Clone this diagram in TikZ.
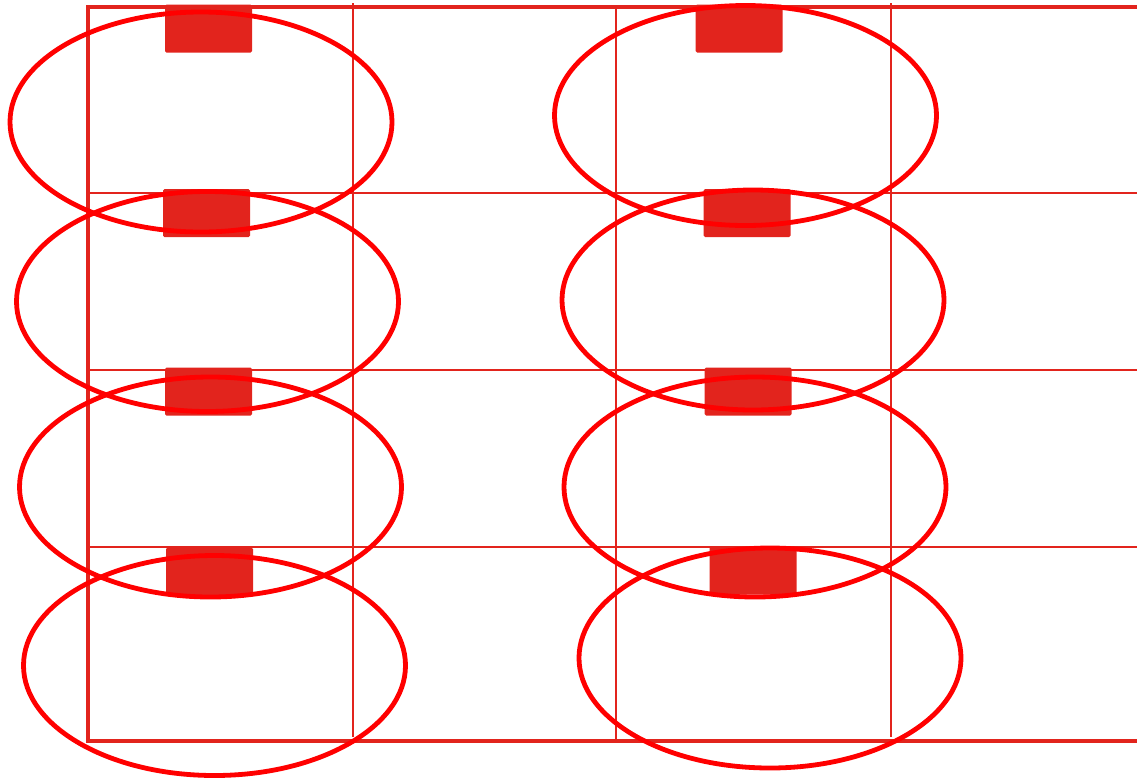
\documentclass[tikz,border=0pt]{standalone}
\usepackage{xcolor}
\usepackage{tikz}
\usetikzlibrary{shapes.geometric}
\definecolor{wallred}{RGB}{226,36,29}
\definecolor{ringred}{RGB}{255,0,0}

\begin{document}
\begin{tikzpicture}[x=1pt, y=-1pt,
  wall/.style={draw=wallred, line width=4pt},
  rule/.style={draw=wallred, line width=2.3pt},
  pad/.style={fill=wallred, rounded corners=1.5pt, minimum width=87pt, minimum height=48pt, inner sep=0pt},
  ring/.style={ellipse, draw=ringred, line width=4.8pt, minimum width=382pt, minimum height=220pt, inner sep=0pt}]
\useasboundingbox (0,0) rectangle (1137,780);
% grid
\draw[rule] (88,193) -- (1137,193);
\draw[rule] (88,370) -- (1137,370);
\draw[rule] (88,547) -- (1137,547);
\draw[rule] (353,3) -- (353,737);
\draw[rule] (616,7) -- (616,741);
\draw[rule] (891,3) -- (891,737);
\draw[wall] (1137,7) -- (88,7) -- (88,741) -- (1137,741);
% pads
\node[pad] (padL1) at (208.5,28.5) {};
\node[pad] (padL2) at (206.5,213) {};
\node[pad] (padL3) at (208.5,391.5) {};
\node[pad] (padL4) at (209.5,571.5) {};
\node[pad] (padR1) at (739,28.5) {};
\node[pad] (padR2) at (747,213) {};
\node[pad] (padR3) at (748,391.5) {};
\node[pad] (padR4) at (753,570.5) {};
% rings
\node[ring] (ringL1) at (201,122) {};
\node[ring] (ringL2) at (207.5,301.5) {};
\node[ring] (ringL3) at (210.5,487) {};
\node[ring] (ringL4) at (214.5,665.5) {};
\node[ring] (ringR1) at (745.5,115.5) {};
\node[ring] (ringR2) at (753,300) {};
\node[ring] (ringR3) at (755,487) {};
\node[ring] (ringR4) at (770,658) {};
\end{tikzpicture}
\end{document}
